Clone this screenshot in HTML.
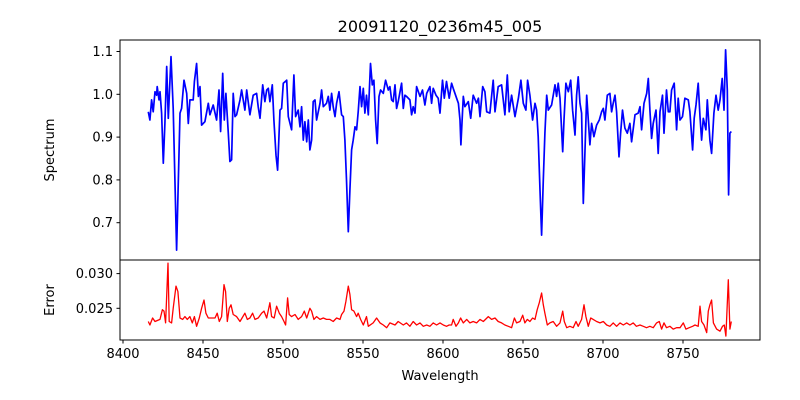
<!DOCTYPE html>
<html><head><meta charset="utf-8"><style>
html,body{margin:0;padding:0;background:#fff;}
svg{display:block;font-family:"DejaVu Sans","Liberation Sans",sans-serif;}
</style></head><body>
<svg id="chart" width="800" height="400" viewBox="0 0 800 400">
<defs>
<clipPath id="ctop"><rect x="120" y="40" width="640" height="220"/></clipPath>
<clipPath id="cbot"><rect x="120" y="260" width="640" height="80"/></clipPath>
</defs>
<text x="440" y="32" font-size="16" text-anchor="middle">20091120_0236m45_005</text>
<g id="topAxes"></g>
<g id="botAxes"></g>
<text transform="translate(54,150) rotate(-90)" font-size="13" text-anchor="middle">Spectrum</text>
<text transform="translate(54,300) rotate(-90)" font-size="13" text-anchor="middle">Error</text>
<text x="440" y="380" font-size="13" text-anchor="middle">Wavelength</text>
</svg>
<script>
const specWave=[8415.8,8416.8,8417.9,8418.9,8420.0,8421.0,8421.4,8422.5,8423.1,8424.1,8425.2,8426.2,8427.3,8428.3,8430.0,8431.4,8433.5,8435.6,8436.6,8438.1,8439.8,8440.8,8441.8,8443.9,8444.6,8446.0,8447.1,8448.1,8449.1,8451.2,8453.3,8454.3,8456.4,8458.5,8460.0,8461.0,8462.3,8463.3,8464.3,8465.8,8466.8,8467.9,8468.9,8470.0,8471.0,8473.1,8474.1,8476.2,8477.3,8479.3,8481.4,8483.5,8484.5,8485.6,8487.3,8488.7,8489.8,8490.8,8491.8,8493.3,8494.3,8495.6,8496.6,8498.1,8499.1,8500.2,8502.3,8503.3,8505.4,8506.8,8507.9,8509.5,8510.6,8511.6,8512.7,8513.7,8514.8,8515.8,8516.8,8517.9,8518.9,8520.0,8521.0,8523.1,8524.1,8525.2,8527.2,8528.3,8529.3,8530.4,8531.4,8532.5,8533.5,8535.0,8536.6,8537.7,8538.7,8539.7,8540.8,8541.8,8542.9,8543.9,8545.0,8546.0,8547.0,8548.1,8549.1,8550.2,8551.2,8552.2,8553.3,8554.7,8555.8,8556.8,8557.9,8558.9,8560.0,8561.0,8562.7,8564.1,8565.8,8566.8,8567.9,8568.9,8570.0,8571.0,8572.0,8574.1,8575.2,8576.2,8577.2,8579.3,8580.4,8581.4,8582.5,8583.5,8585.6,8587.2,8588.7,8589.8,8591.8,8592.9,8593.9,8595.6,8597.0,8598.1,8599.7,8600.8,8602.2,8603.9,8605.4,8606.4,8608.5,8609.6,8610.6,8611.2,8612.7,8613.7,8615.8,8617.3,8618.9,8621.0,8622.1,8623.1,8624.8,8626.2,8627.3,8629.3,8631.4,8632.5,8634.5,8636.6,8638.7,8640.2,8641.4,8642.9,8645.0,8647.1,8648.7,8650.2,8651.8,8652.9,8654.3,8656.0,8657.5,8658.5,8659.5,8660.6,8661.6,8662.7,8663.7,8664.8,8665.8,8667.9,8670.0,8671.0,8672.0,8673.1,8674.8,8675.6,8676.8,8678.3,8679.8,8681.0,8682.5,8683.5,8684.5,8685.6,8686.6,8687.7,8688.7,8689.8,8690.8,8691.8,8692.9,8694.3,8696.0,8697.7,8699.1,8700.2,8701.2,8702.7,8704.3,8705.4,8706.4,8707.5,8708.5,8710.0,8711.0,8712.2,8713.7,8715.2,8716.8,8717.9,8720.0,8722.0,8723.1,8724.1,8725.6,8727.3,8728.3,8729.3,8730.4,8731.4,8733.1,8734.5,8735.6,8737.2,8738.1,8739.7,8740.8,8741.8,8742.9,8744.5,8746.0,8747.0,8748.1,8749.7,8751.2,8753.3,8754.3,8756.0,8757.0,8758.1,8759.5,8760.6,8761.6,8762.7,8764.3,8765.2,8766.8,8767.9,8769.3,8770.6,8772.0,8773.1,8774.5,8775.6,8776.6,8777.7,8778.5,8779.3,8780.2];
const specFlux=[0.959,0.940,0.987,0.959,1.006,0.998,1.018,0.987,1.006,0.956,0.839,0.932,1.065,0.944,1.088,0.967,0.636,0.956,0.967,1.033,1.002,0.932,0.987,0.987,1.030,1.072,0.995,1.018,0.928,0.936,0.979,0.952,0.975,0.940,1.010,0.913,1.049,0.940,1.002,0.909,0.843,0.847,1.002,0.948,0.952,0.987,1.010,0.963,1.010,0.952,0.998,1.002,0.971,0.944,1.022,0.983,1.010,1.014,0.983,1.022,0.940,0.858,0.823,0.963,0.967,1.026,1.033,0.948,0.917,1.045,0.948,0.963,0.924,0.971,0.893,0.936,0.889,0.940,0.870,0.893,0.983,0.987,0.940,0.979,1.010,0.971,0.979,0.995,0.963,1.002,0.971,0.948,0.979,1.006,0.952,0.948,0.893,0.800,0.679,0.776,0.870,0.893,0.924,0.917,0.959,1.018,0.971,1.014,0.956,0.998,0.952,1.072,1.022,1.033,0.940,0.885,0.995,1.010,1.002,1.033,1.010,1.018,0.987,0.983,1.022,0.967,0.983,1.026,0.967,0.998,0.995,0.987,0.952,0.971,0.956,1.018,0.995,1.010,0.975,1.002,1.018,0.979,1.014,0.998,0.991,0.956,1.033,0.991,1.030,0.991,1.026,1.014,0.991,0.979,0.940,0.882,0.995,0.971,0.983,0.944,0.998,0.979,0.991,0.948,1.018,1.006,0.959,0.956,1.033,0.959,1.018,1.022,0.952,1.045,0.959,0.998,0.948,0.991,1.033,0.979,0.963,1.033,0.998,0.940,0.979,0.963,0.901,0.776,0.671,0.800,0.909,0.998,0.963,0.975,1.022,0.995,1.026,0.991,0.866,0.940,1.026,1.006,1.033,0.963,0.905,0.998,1.041,0.979,0.956,0.745,0.862,0.998,0.940,0.882,0.932,0.901,0.928,0.940,0.959,0.967,0.940,0.998,1.002,0.959,0.979,0.998,0.959,0.854,0.909,0.963,0.921,0.909,0.932,0.889,0.952,0.956,0.971,0.917,0.979,1.002,1.037,0.963,0.897,0.932,0.963,0.862,0.959,0.998,0.909,1.010,0.959,0.959,1.010,1.026,0.917,0.991,0.940,0.948,0.991,0.987,0.959,0.870,0.944,0.975,1.026,0.948,0.893,0.944,0.917,0.987,0.893,0.862,0.956,0.998,0.963,0.987,1.037,0.963,1.104,1.010,0.765,0.909,0.913];
const errWave=[8415.8,8416.8,8418.5,8420.0,8423.1,8424.6,8425.6,8426.6,8428.1,8428.9,8430.4,8431.4,8433.1,8434.3,8435.6,8437.3,8438.7,8440.2,8441.8,8443.3,8444.6,8446.0,8447.7,8449.1,8450.6,8451.8,8453.3,8455.4,8457.5,8458.9,8460.2,8461.6,8463.1,8464.1,8465.2,8466.4,8467.5,8468.9,8471.0,8473.1,8476.2,8477.7,8479.3,8481.0,8482.5,8484.5,8486.6,8488.1,8489.8,8491.8,8492.9,8494.5,8496.0,8497.7,8499.1,8500.6,8501.6,8502.9,8503.9,8505.4,8507.5,8509.5,8511.6,8513.3,8514.8,8516.8,8517.9,8519.3,8521.0,8523.1,8525.2,8527.2,8529.3,8531.4,8533.5,8535.6,8536.6,8538.1,8539.3,8540.8,8541.8,8542.9,8544.3,8546.0,8547.0,8548.5,8550.2,8552.2,8553.3,8556.4,8558.5,8560.6,8562.7,8564.8,8566.8,8570.0,8572.0,8575.2,8577.2,8579.3,8581.4,8583.5,8585.6,8587.7,8589.8,8591.8,8593.9,8596.0,8598.1,8600.2,8602.2,8603.9,8605.4,8606.4,8608.1,8609.6,8611.0,8612.7,8614.8,8616.8,8618.9,8621.0,8623.1,8625.2,8628.3,8630.4,8632.5,8634.5,8636.6,8638.7,8640.8,8642.9,8644.6,8646.0,8648.1,8649.8,8651.2,8652.7,8654.3,8656.0,8657.5,8658.9,8660.2,8661.6,8662.7,8663.7,8665.2,8666.8,8668.9,8671.0,8673.1,8674.8,8675.8,8677.3,8679.3,8681.4,8683.1,8684.5,8686.6,8688.1,8689.3,8690.8,8692.3,8693.9,8696.0,8698.1,8700.2,8702.3,8704.3,8706.4,8708.5,8710.6,8712.7,8714.8,8716.8,8718.9,8720.9,8723.1,8725.2,8727.2,8729.3,8731.4,8733.5,8735.2,8736.6,8738.1,8739.7,8741.8,8743.9,8746.0,8748.1,8750.2,8751.8,8753.9,8756.0,8757.5,8759.5,8760.6,8761.6,8763.1,8764.8,8765.8,8766.8,8767.9,8769.0,8771.0,8773.1,8774.7,8775.8,8776.8,8778.3,8779.3,8780.2];
const errVal=[0.0231,0.0226,0.0236,0.0231,0.0234,0.0248,0.0246,0.0229,0.0315,0.0231,0.0229,0.0250,0.0282,0.0274,0.0236,0.0234,0.0238,0.0234,0.0238,0.0229,0.0238,0.0224,0.0236,0.0250,0.0262,0.0243,0.0236,0.0236,0.0236,0.0243,0.0231,0.0238,0.0284,0.0274,0.0231,0.0250,0.0255,0.0241,0.0238,0.0231,0.0243,0.0234,0.0236,0.0243,0.0234,0.0236,0.0243,0.0246,0.0236,0.0258,0.0238,0.0236,0.0253,0.0243,0.0238,0.0231,0.0226,0.0265,0.0241,0.0238,0.0241,0.0234,0.0238,0.0246,0.0236,0.0250,0.0246,0.0234,0.0238,0.0234,0.0236,0.0234,0.0234,0.0231,0.0236,0.0234,0.0241,0.0246,0.0260,0.0282,0.0270,0.0248,0.0246,0.0238,0.0243,0.0234,0.0226,0.0238,0.0224,0.0229,0.0236,0.0229,0.0226,0.0222,0.0229,0.0226,0.0231,0.0226,0.0229,0.0224,0.0231,0.0226,0.0229,0.0224,0.0226,0.0224,0.0229,0.0226,0.0229,0.0226,0.0224,0.0226,0.0226,0.0234,0.0224,0.0229,0.0236,0.0229,0.0234,0.0229,0.0231,0.0229,0.0234,0.0231,0.0238,0.0234,0.0236,0.0231,0.0229,0.0226,0.0224,0.0222,0.0236,0.0229,0.0231,0.0240,0.0229,0.0234,0.0231,0.0236,0.0234,0.0248,0.0258,0.0272,0.0255,0.0243,0.0226,0.0229,0.0231,0.0224,0.0229,0.0246,0.0231,0.0222,0.0224,0.0222,0.0231,0.0224,0.0234,0.0255,0.0238,0.0224,0.0236,0.0234,0.0231,0.0229,0.0231,0.0226,0.0224,0.0229,0.0224,0.0229,0.0226,0.0229,0.0226,0.0229,0.0224,0.0226,0.0224,0.0222,0.0224,0.0222,0.0229,0.0231,0.0220,0.0229,0.0222,0.0224,0.0220,0.0222,0.0222,0.0229,0.0220,0.0222,0.0224,0.0226,0.0224,0.0253,0.0231,0.0226,0.0215,0.0246,0.0255,0.0262,0.0229,0.0220,0.0217,0.0224,0.0226,0.0210,0.0291,0.0220,0.0231];
const xTicks=[8400,8450,8500,8550,8600,8650,8700,8750];
const specTicks=[0.7,0.8,0.9,1.0,1.1];
const errTicks=[0.025,0.030];

const NS='http://www.w3.org/2000/svg';
const xScale=w=>123+(w-8400)*1.6;
const ySpec=v=>94.3-(v-1)*428;
const yErr=v=>308.3-(v-0.025)*6940;
function mk(tag,attrs,parent){const e=document.createElementNS(NS,tag);for(const k in attrs)e.setAttribute(k,attrs[k]);parent.appendChild(e);return e;}
const topG=document.getElementById('topAxes'),botG=document.getElementById('botAxes');

let d='';specWave.forEach((w,i)=>{d+=(i?'L':'M')+xScale(w).toFixed(1)+' '+ySpec(specFlux[i]).toFixed(1);});
const sl=mk('path',{d:d,fill:'none',stroke:'#0000ff','stroke-width':1.7,'stroke-linejoin':'round','clip-path':'url(#ctop)'},topG);


d='';errWave.forEach((w,i)=>{d+=(i?'L':'M')+xScale(w).toFixed(1)+' '+yErr(errVal[i]).toFixed(1);});
const el=mk('path',{d:d,fill:'none',stroke:'#ff0000','stroke-width':1.3,'stroke-linejoin':'round','clip-path':'url(#cbot)'},botG);



const f1=mk('rect',{x:120,y:40,width:640,height:220,fill:'none',stroke:'#000','stroke-width':1},topG);


const f2=mk('rect',{x:120,y:260,width:640,height:80,fill:'none',stroke:'#000','stroke-width':1},botG);



specTicks.forEach(v=>{const y=ySpec(v);
 mk('line',{x1:116.5,x2:120,y1:y,y2:y,stroke:'#000'},topG);
 const t=mk('text',{x:113,y:y+4.5,'font-size':13,'text-anchor':'end'},topG);t.textContent=v.toFixed(1);
 
 });
errTicks.forEach(v=>{const y=yErr(v);
 mk('line',{x1:116.5,x2:120,y1:y,y2:y,stroke:'#000'},botG);
 const t=mk('text',{x:113,y:y+4.5,'font-size':13,'text-anchor':'end'},botG);t.textContent=v.toFixed(3);
 
 });
xTicks.forEach(v=>{const x=xScale(v);
 mk('line',{x1:x,x2:x,y1:340,y2:343.5,stroke:'#000'},botG);
 const t=mk('text',{x:x,y:358,'font-size':13,'text-anchor':'middle'},botG);t.textContent=v;
 
 });
</script>
</body></html>
